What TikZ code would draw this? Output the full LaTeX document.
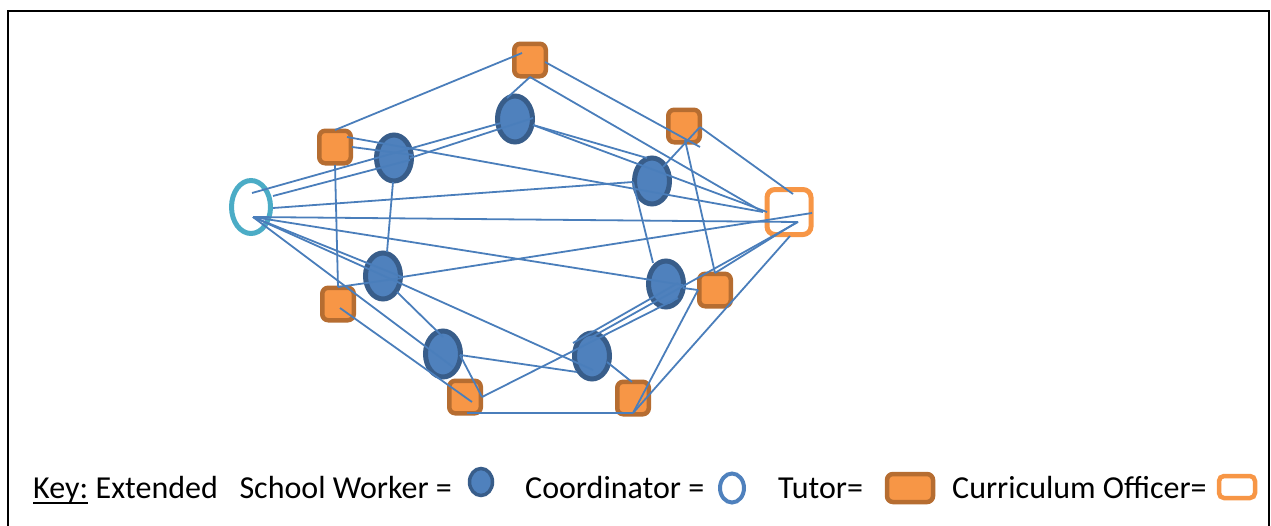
\documentclass[tikz,border=0pt]{standalone}
\usepackage{fontspec}
\setmainfont{Carlito}
\usetikzlibrary{shapes.geometric}
\definecolor{lineblue}{HTML}{4A7EBB}
\definecolor{wfill}{HTML}{4F81BD}
\definecolor{wdraw}{HTML}{385D8A}
\definecolor{tfill}{HTML}{F79646}
\definecolor{tdraw}{HTML}{B66D31}
\definecolor{cteal}{HTML}{4BACC6}
\begin{document}
\begin{tikzpicture}[x=1pt,y=-1pt,
  worker/.style={ellipse,draw=wdraw,fill=wfill,line width=5pt,minimum width=35pt,minimum height=46pt,inner sep=0pt},
  tutor/.style={rectangle,rounded corners=6pt,draw=tdraw,fill=tfill,line width=4.5pt,minimum width=31.5pt,minimum height=32.5pt,inner sep=0pt},
  coordn/.style={ellipse,draw=cteal,line width=5pt,minimum width=39pt,minimum height=53pt,inner sep=0pt},
  officer/.style={rectangle,rounded corners=8pt,draw=tfill,fill=white,line width=5pt,minimum width=44pt,minimum height=45pt,inner sep=0pt},
  conn/.style={draw=lineblue,line width=1.8pt},
  legtext/.style={anchor=base west,inner sep=0pt,font=\fontsize{32}{38}\selectfont}]
\useasboundingbox (0,0) rectangle (1271,525);
\clip (0,0) rectangle (1271,525);
\draw[line width=2.2pt] (8,545) -- (8,11) -- (1269,11) -- (1269,545);
% nodes
\node[coordn] (C) at (251,207) {};
\node[officer] (O) at (789,212) {};
\node[tutor] (T1) at (530,60) {};
\node[tutor] (T2) at (335,147) {};
\node[tutor] (T3) at (684,126) {};
\node[tutor] (T4) at (338,304) {};
\node[tutor] (T5) at (715,290) {};
\node[tutor] (T6) at (465,397) {};
\node[tutor] (T7) at (633,398) {};
\node[worker] (W1) at (515,119) {};
\node[worker] (W2) at (394,158) {};
\node[worker] (W3) at (652,181) {};
\node[worker] (W4) at (383,276) {};
\node[worker] (W5) at (666,284) {};
\node[worker] (W6) at (443,354) {};
\node[worker] (W7) at (592,356) {};
% connectors
\draw[conn] ([shift={(-8,-7)}]T1.center) -- ([shift={(0,-17)}]T2.center);
\draw[conn] ([shift={(15,2)}]T1.center) -- ([shift={(16,21)}]T3.center);
\draw[conn] ([shift={(0,17)}]T1.center) -- ([shift={(-26,0)}]O.center);
\draw[conn] ([shift={(0,17)}]T1.center) -- ([shift={(-8,-21)}]W1.center);
\draw[conn] ([shift={(17,0)}]T2.center) -- ([shift={(19,-3)}]W2.center);
\draw[conn] ([shift={(12,-10)}]T2.center) -- ([shift={(-26,0)}]O.center);
\draw[conn] ([shift={(0,18)}]T2.center) -- ([shift={(0,-17)}]T4.center);
\draw[conn] ([shift={(22,-11)}]C.center) -- ([shift={(16,2)}]W2.center);
\draw[conn] ([shift={(1,-14)}]C.center) -- ([shift={(-14,4)}]W1.center);
\draw[conn] ([shift={(16,0)}]W2.center) -- ([shift={(18,-1)}]W1.center);
\draw[conn] ([shift={(18,6)}]W1.center) -- ([shift={(-5,-23)}]W3.center);
\draw[conn] ([shift={(18,6)}]W1.center) -- ([shift={(-22,0)}]O.center);
\draw[conn] ([shift={(22,1)}]C.center) -- ([shift={(-19,1)}]W3.center);
\draw[conn] ([shift={(2,10)}]C.center) -- ([shift={(9,10)}]O.center);
\draw[conn] ([shift={(2,10)}]C.center) -- ([shift={(17,1)}]W5.center);
\draw[conn] ([shift={(2,10)}]C.center) -- ([shift={(19,1)}]W4.center);
\draw[conn] ([shift={(2,10)}]C.center) -- ([shift={(1,14)}]W7.center);
\draw[conn] ([shift={(2,10)}]C.center) -- ([shift={(10,13)}]W6.center);
\draw[conn] ([shift={(-1,24)}]W2.center) -- ([shift={(4,-24)}]W4.center);
\draw[conn] ([shift={(0,-17)}]T4.center) -- ([shift={(19,2)}]W4.center);
\draw[conn] ([shift={(2,4)}]T4.center) -- ([shift={(7,5)}]T6.center);
\draw[conn] ([shift={(19,1)}]W4.center) -- ([shift={(23,1)}]O.center);
\draw[conn] ([shift={(14,16)}]W4.center) -- ([shift={(0,-17)}]W6.center);
\draw[conn] ([shift={(17,1)}]W6.center) -- ([shift={(-15,16)}]W7.center);
\draw[conn] ([shift={(17,1)}]W6.center) -- ([shift={(17,0)}]T6.center);
\draw[conn] ([shift={(2,16)}]T6.center) -- ([shift={(0,15)}]T7.center);
\draw[conn] ([shift={(17,0)}]T6.center) -- ([shift={(12,14)}]W5.center);
\draw[conn] ([shift={(16,1)}]T3.center) -- ([shift={(4,-18)}]O.center);
\draw[conn] ([shift={(16,1)}]T3.center) -- ([shift={(11,-14)}]W3.center);
\draw[conn] ([shift={(1,14)}]T3.center) -- ([shift={(0,-17)}]T5.center);
\draw[conn] ([shift={(-19,1)}]W3.center) -- ([shift={(-13,-21)}]W5.center);
\draw[conn] ([shift={(17,4)}]W5.center) -- ([shift={(-17,0)}]T5.center);
\draw[conn] ([shift={(0,-17)}]T5.center) -- ([shift={(8,10)}]O.center);
\draw[conn] ([shift={(-19,-13)}]W7.center) -- ([shift={(12,-1)}]W5.center);
\draw[conn] ([shift={(-2,-18)}]W7.center) -- ([shift={(9,10)}]O.center);
\draw[conn] ([shift={(15,6)}]W7.center) -- ([shift={(-1,-16)}]T7.center);
\draw[conn] ([shift={(0,15)}]T7.center) -- ([shift={(-17,0)}]T5.center);
\draw[conn] ([shift={(0,15)}]T7.center) -- ([shift={(1,24)}]O.center);
% legend
\node[legtext] (key) at (33,498) {Key:};
\draw[line width=2pt] ([yshift=-5pt]key.base west) -- ([yshift=-5pt]key.base east);
\node[legtext] (ext) at (key.base east) {\ Extended\ \ \ School Worker =};
\node[worker,line width=3.5pt,minimum width=23pt,minimum height=27pt] (lw) at (481,482) {};
\node[legtext] (lc) at (525,498) {Coordinator =};
\node[ellipse,draw=wfill,line width=4pt,minimum width=24pt,minimum height=29pt,inner sep=0pt] (lco) at (732,488) {};
\node[legtext] (lt) at (778,498) {Tutor=};
\node[tutor,minimum width=46pt,minimum height=28pt] (ltu) at (910,488) {};
\node[legtext] (lo) at (952,498) {Curriculum Officer=};
\node[officer,minimum width=36pt,minimum height=22pt,line width=4.5pt,rounded corners=5pt] (lof) at (1237,487) {};
\end{tikzpicture}
\end{document}
